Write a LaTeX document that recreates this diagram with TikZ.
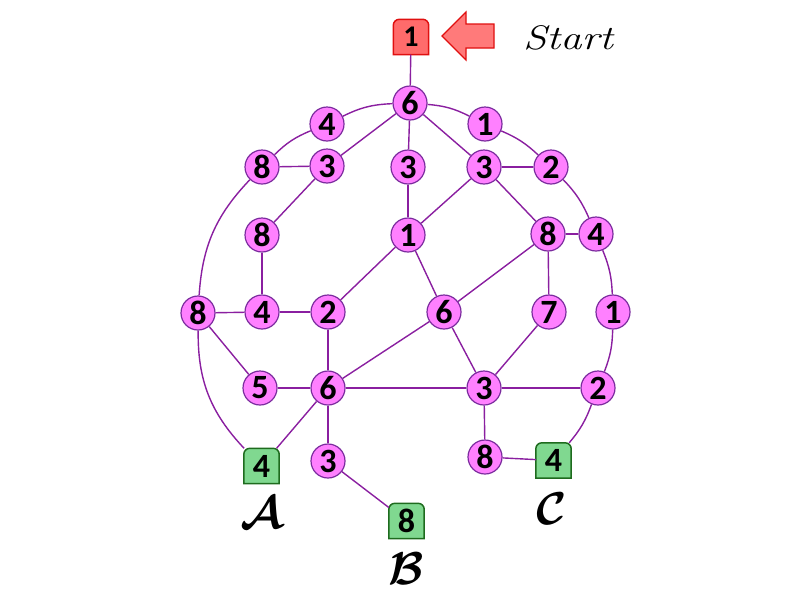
\RequirePackage{fix-cm}
\documentclass[tikz,border=0pt]{standalone}
\usepackage{fontspec}
\newfontfamily\numfont{Carlito}
\usetikzlibrary{backgrounds}
\definecolor{edgec}{HTML}{8A1FA0}
\definecolor{nfill}{HTML}{FF80FF}
\definecolor{nborder}{HTML}{7B2C9E}
\definecolor{gfill}{HTML}{80D890}
\definecolor{gborder}{HTML}{1E6B1E}
\definecolor{rfill}{HTML}{FF6B6B}
\definecolor{rborder}{HTML}{E01010}
\newcommand\sqshape[3]{%
  \begin{scope}[on background layer]
    \filldraw[fill=#2,draw=#3,line width=1.5pt] (#1.south west) {[rounded corners=6pt] -- (#1.north west) -- (#1.north east)} -- (#1.south east) -- cycle;
  \end{scope}}
\newcommand\digitfont{\numfont\bfseries\fontsize{34}{34}\selectfont}
\begin{document}
\begin{tikzpicture}[x=1pt,y=-1pt,
  vtx/.style={circle,draw=nborder,fill=nfill,line width=1.2pt,minimum size=34pt,inner sep=0pt,
    font=\digitfont},
  sqn/.style={rectangle,minimum width=35pt,minimum height=35pt,inner sep=0pt,
    font=\digitfont},
  lab/.style={font=\fontsize{46}{46}\selectfont\boldmath,inner sep=0pt,anchor=north},
  edge/.style={draw=edgec,line width=1.4pt}]
\useasboundingbox (0,0) rectangle (800,600);

% start
\node[sqn,font=\numfont\bfseries\fontsize{30}{30}\selectfont] (st) at (411,37) {1};
\sqshape{st}{rfill}{rborder}
\filldraw[fill=rfill!90,draw=rborder,line width=1.2pt] (442,36) -- (466,12) -- (466,24) -- (494,24) -- (494,48) -- (466,48) -- (466,60) -- cycle;
\node[font=\itshape\fontsize{34}{34}\selectfont,xscale=1.25] (stt) at (568,38) {Start};

% vertices
\node[vtx] (a) at (410,103) {6};
\node[vtx] (b) at (327,124) {4};
\node[vtx] (c) at (485,124) {1};
\node[vtx] (d) at (262,167) {8};
\node[vtx] (e) at (327,166) {3};
\node[vtx] (f) at (408,167) {3};
\node[vtx] (g) at (484,167) {3};
\node[vtx] (h) at (551,167) {2};
\node[vtx] (i) at (262,235) {8};
\node[vtx] (j) at (408,235) {1};
\node[vtx] (k) at (548,234) {8};
\node[vtx] (l) at (596,234) {4};
\node[vtx] (m) at (198,313) {8};
\node[vtx] (n) at (262,312) {4};
\node[vtx] (o) at (328,312) {2};
\node[vtx] (p) at (444,312) {6};
\node[vtx] (q) at (549,312) {7};
\node[vtx] (r) at (613,312) {1};
\node[vtx] (s) at (260,388) {5};
\node[vtx] (t) at (328,388) {6};
\node[vtx] (u) at (484,388) {3};
\node[vtx] (v) at (598,388) {2};
\node[vtx] (w) at (328,461) {3};
\node[vtx] (x) at (485,457) {8};

% goals
\node[sqn] (A) at (261.5,466) {4};
\sqshape{A}{gfill}{gborder}
\node[sqn] (B) at (406.5,521) {8};
\sqshape{B}{gfill}{gborder}
\node[sqn] (C) at (553.5,460.5) {4};
\sqshape{C}{gfill}{gborder}
\node[lab] (la) at (262,497) {$\mathcal{A}$};
\node[lab] (lb) at (406,553) {$\mathcal{B}$};
\node[lab] (lc) at (552,493) {$\mathcal{C}$};

% edges
\draw[edge] (st) -- (a);
\draw[edge] (a) to[bend right=12] (b);
\draw[edge] (b) to[bend right=11] (d);
\draw[edge] (d) to[bend right=20] (m);
\draw[edge] (m) to[bend right=22] (A);
\draw[edge] (a) to[bend left=11] (c);
\draw[edge] (c) to[bend left=10] (h);
\draw[edge] (h) to[bend left=10] (l);
\draw[edge] (l) to[bend left=10] (r);
\draw[edge] (r) to[bend left=10] (v);
\draw[edge] (v) to[bend left=10] (C);
\draw[edge] (a) -- (e);
\draw[edge] (a) -- (f);
\draw[edge] (a) -- (g);
\draw[edge] (d) -- (e);
\draw[edge] (e) -- (i);
\draw[edge] (i) -- (n);
\draw[edge] (f) -- (j);
\draw[edge] (g) -- (j);
\draw[edge] (g) -- (h);
\draw[edge] (g) -- (k);
\draw[edge] (k) -- (l);
\draw[edge] (j) -- (o);
\draw[edge] (j) -- (p);
\draw[edge] (k) -- (p);
\draw[edge] (k) -- (q);
\draw[edge] (m) -- (n);
\draw[edge] (n) -- (o);
\draw[edge] (m) -- (s);
\draw[edge] (o) -- (t);
\draw[edge] (p) -- (t);
\draw[edge] (p) -- (u);
\draw[edge] (q) -- (u);
\draw[edge] (s) -- (t);
\draw[edge] (t) -- (u);
\draw[edge] (u) -- (v);
\draw[edge] (t) -- (A);
\draw[edge] (t) -- (w);
\draw[edge] (w) -- (B);
\draw[edge] (u) -- (x);
\draw[edge] (x) -- (C);
\end{tikzpicture}
\end{document}
